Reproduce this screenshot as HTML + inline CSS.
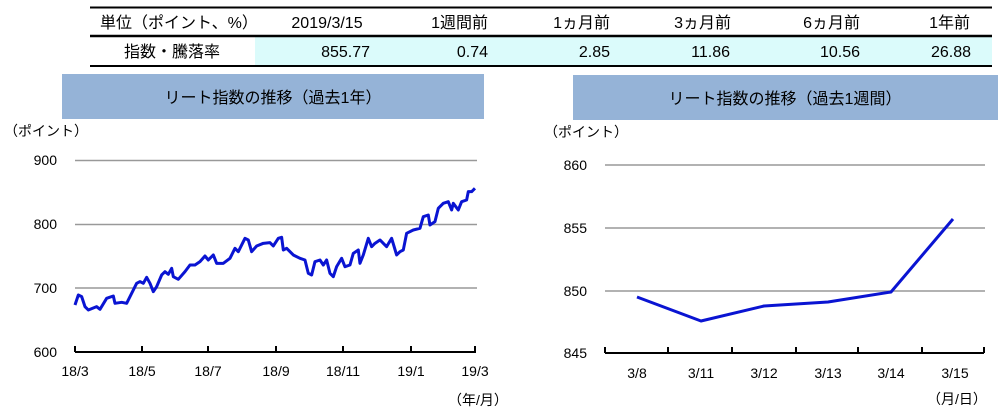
<!DOCTYPE html>
<html><head><meta charset="utf-8"><style>
body{margin:0;background:#fff;}
svg{display:block;font-family:"Liberation Sans","Noto Sans CJK JP",sans-serif;}
</style></head><body>
<svg width="1005" height="413" viewBox="0 0 1005 413">
<rect x="255" y="37" width="737" height="28" fill="#dbfbfb"/>
<line x1="90" y1="7.5" x2="992" y2="7.5" stroke="#000" stroke-width="2"/>
<line x1="90" y1="36" x2="992" y2="36" stroke="#000" stroke-width="2.5"/>
<line x1="90" y1="66" x2="992" y2="66" stroke="#000" stroke-width="2"/>
<g font-size="16" fill="#000">
<text x="100" y="28">単位（ポイント、%）</text>
<text x="327" y="28" text-anchor="middle">2019/3/15</text>
<text x="488" y="28" text-anchor="end">1週間前</text>
<text x="610" y="28" text-anchor="end">1ヵ月前</text>
<text x="731" y="28" text-anchor="end">3ヵ月前</text>
<text x="860" y="28" text-anchor="end">6ヵ月前</text>
<text x="970" y="28" text-anchor="end">1年前</text>
<text x="172" y="57" text-anchor="middle">指数・騰落率</text>
<text x="370" y="57" text-anchor="end">855.77</text>
<text x="488" y="57" text-anchor="end">0.74</text>
<text x="610" y="57" text-anchor="end">2.85</text>
<text x="730" y="57" text-anchor="end">11.86</text>
<text x="860" y="57" text-anchor="end">10.56</text>
<text x="971" y="57" text-anchor="end">26.88</text>
</g>
<rect x="62" y="74" width="422" height="45" fill="#95b3d7"/>
<text x="273" y="103" font-size="16" text-anchor="middle">リート指数の推移（過去1年）</text>
<rect x="573" y="75" width="425" height="45" fill="#95b3d7"/>
<text x="785" y="104" font-size="16" text-anchor="middle">リート指数の推移（過去1週間）</text>
<g font-size="14">
<text x="4" y="136">（ポイント）</text>
<text x="57" y="165" text-anchor="end">900</text>
<text x="57" y="229" text-anchor="end">800</text>
<text x="57" y="293" text-anchor="end">700</text>
<text x="57" y="357" text-anchor="end">600</text>
</g>
<g stroke="#999" stroke-width="1.5">
<line x1="75" y1="160.5" x2="477" y2="160.5"/>
<line x1="75" y1="224.5" x2="477" y2="224.5"/>
<line x1="75" y1="288" x2="477" y2="288"/>
</g>
<g stroke="#000" stroke-width="2">
<line x1="75" y1="352" x2="476" y2="352"/>
<line x1="75" y1="346" x2="75" y2="352"/><line x1="142" y1="346" x2="142" y2="352"/>
<line x1="208" y1="346" x2="208" y2="352"/><line x1="276" y1="346" x2="276" y2="352"/>
<line x1="343" y1="346" x2="343" y2="352"/><line x1="411" y1="346" x2="411" y2="352"/>
<line x1="475" y1="346" x2="475" y2="352"/>
</g>
<g font-size="14" text-anchor="middle">
<text x="75" y="376">18/3</text><text x="142" y="376">18/5</text><text x="208" y="376">18/7</text>
<text x="276" y="376">18/9</text><text x="343" y="376">18/11</text><text x="411" y="376">19/1</text>
<text x="475" y="376">19/3</text>
<text x="478" y="405">（年/月）</text>
</g>
<g transform="translate(0,140) scale(0.3333)">
<polyline fill="none" stroke="#0a14d2" stroke-width="3" vector-effect="non-scaling-stroke" stroke-linejoin="round" points="
225,495 235,465 245,470 255,500 265,510 290,500 300,508 320,475 340,468 345,490 365,487 380,490 395,460 410,430 420,425 430,430 440,412 450,430 460,455 470,440 485,405 495,395 505,403 515,385 520,410 535,418 555,395 570,375 585,375 600,365 615,348 625,360 640,345 650,370 670,370 690,355 705,325 715,335 735,295 745,300 755,335 770,318 790,310 810,308 820,318 835,295 845,292 850,330 860,325 880,345 900,355 915,360 925,400 935,405 945,365 960,360 970,375 980,360 990,400 1000,410 1010,380 1025,355 1035,380 1050,375 1060,340 1075,330 1080,370 1090,345 1105,295 1115,320 1125,310 1140,300 1160,320 1175,295 1190,345 1200,335 1210,330 1220,280 1240,270 1260,265 1270,230 1285,225 1290,255 1305,245 1315,205 1330,190 1345,185 1355,210 1360,190 1375,210 1385,185 1400,180 1405,155 1415,155 1425,145"/>
</g>
<g font-size="14">
<text x="544" y="137">（ポイント）</text>
<text x="587" y="170" text-anchor="end">860</text>
<text x="587" y="233" text-anchor="end">855</text>
<text x="587" y="296" text-anchor="end">850</text>
<text x="587" y="358" text-anchor="end">845</text>
</g>
<g stroke="#999" stroke-width="1.5">
<line x1="605" y1="165" x2="985" y2="165"/>
<line x1="605" y1="228" x2="985" y2="228"/>
<line x1="605" y1="291" x2="985" y2="291"/>
</g>
<g stroke="#000" stroke-width="2">
<line x1="605" y1="353" x2="984" y2="353"/>
<line x1="605" y1="347" x2="605" y2="353"/><line x1="668" y1="347" x2="668" y2="353"/>
<line x1="732" y1="347" x2="732" y2="353"/><line x1="796" y1="347" x2="796" y2="353"/>
<line x1="858" y1="347" x2="858" y2="353"/><line x1="922" y1="347" x2="922" y2="353"/>
<line x1="984" y1="347" x2="984" y2="353"/>
</g>
<g font-size="14" text-anchor="middle">
<text x="637" y="378">3/8</text><text x="701" y="378">3/11</text><text x="764" y="378">3/12</text>
<text x="828" y="378">3/13</text><text x="891" y="378">3/14</text><text x="955" y="378">3/15</text>
<text x="957" y="404">（月/日）</text>
</g>
<polyline fill="none" stroke="#0a14d2" stroke-width="3" stroke-linejoin="round" points="637,297 701,321 764,306 828,302 891,292 953,219"/>
</svg>
</body></html>
